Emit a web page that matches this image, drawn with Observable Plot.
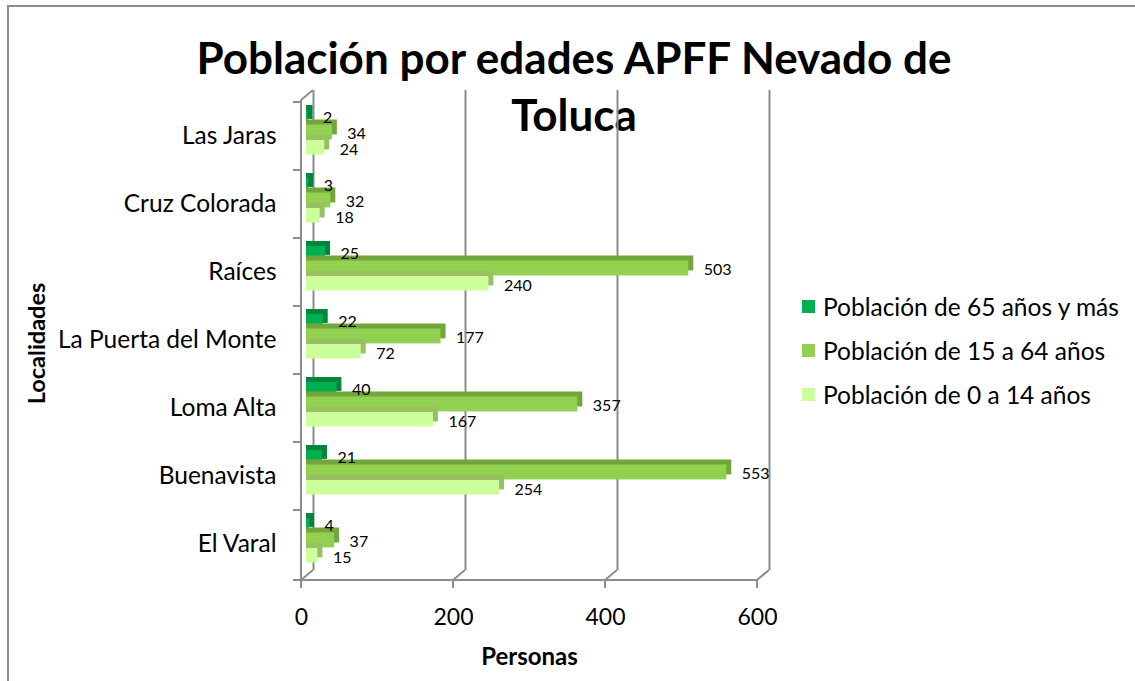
<!DOCTYPE html>
<html>
<head>
<meta charset="utf-8">
<script src="https://cdn.jsdelivr.net/npm/d3@7"></script>
<script src="https://cdn.jsdelivr.net/npm/@observablehq/plot@0.6"></script>
<style>
html, body { margin: 0; padding: 0; background: #fff; overflow: hidden; }
#wrap { position: relative; width: 1135px; height: 681px; font-family: Lato, sans-serif; color: #000; }
#border { position: absolute; left: 7px; top: 5px; width: 1300px; height: 900px; border: 2px solid #8c8c8c; box-sizing: border-box; }
#title { position: absolute; left: 0; top: 29px; width: 1148px; text-align: center; font-weight: 700; font-size: 44px; line-height: 57px; }
#chart { position: absolute; left: 0; top: 0; }
#legend { position: absolute; left: 802px; top: 284px; font-size: 24.5px; }
#legend .row { display: flex; align-items: center; height: 44px; white-space: nowrap; }
#legend .sw { width: 13px; height: 13px; margin-right: 8px; flex: none; }
</style>
</head>
<body>
<div id="wrap">
  <div id="border"></div>
  <div id="title">Población por edades APFF Nevado de<br>Toluca</div>
  <div id="chart"></div>
  <div id="legend"></div>
</div>
<script>
// ---- data ----
const localidades = ["Las Jaras", "Cruz Colorada", "Raíces", "La Puerta del Monte", "Loma Alta", "Buenavista", "El Varal"];
const series = ["Población de 65 años y más", "Población de 15 a 64 años", "Población de 0 a 14 años"];
const pob65ymas = [2, 3, 25, 22, 40, 21, 4];
const pob15a64 = [34, 32, 503, 177, 357, 553, 37];
const pob0a14 = [24, 18, 240, 72, 167, 254, 15];
const xTicks = [0, 200, 400, 600];
const xLabel = "Personas";
const yLabel = "Localidades";

// ---- styles ----
const colors = ["#00B050", "#92D050", "#CCFF99"];
const depthColors = ["#00863C", "#72A63A", "#98C062"];
const gridColor = "#8c8c8c";

const values = [pob65ymas, pob15a64, pob0a14];
const tables = values.map(arr => localidades.map((loc, i) => ({loc, value: arr[i]})));

const W = 1135, H = 681;
const mT = 100, mB = 101, mL = 301, mR = 378;
const bw = (H - mT - mB) / localidades.length;
const barTop = [8, 22.5, 38];
const barBot = [22.5, 38, 53];
const labelDy = [-19, -3, 13];
const depthX = 12, depthY = 10, tickLen = 8;
const barDx = 5, faceD = 5;

function frame3d(index, scales, vals, dims) {
  const x = scales.x, y = scales.y;
  const top = dims.marginTop, bottom = dims.height - dims.marginBottom;
  const x0 = x(0);
  const g = d3.create("svg:g").attr("fill", "none").attr("stroke", gridColor).attr("stroke-width", 2);
  const seg = (a, b, c, d) => g.append("line").attr("x1", a).attr("y1", b).attr("x2", c).attr("y2", d);
  seg(x0, top, x0 + depthX, top - depthY);
  seg(x0, top, x0, bottom + tickLen);
  const ys = localidades.map(d => y(d)).concat([bottom]);
  for (const yy of ys) seg(x0 - tickLen, yy, x0, yy);
  seg(x0 - tickLen, bottom, x(xTicks[xTicks.length - 1]), bottom);
  for (const t of xTicks) {
    const px = x(t);
    seg(px, bottom, px + depthX, bottom - depthY);
    seg(px, bottom, px, bottom + tickLen);
  }
  return g.node();
}

const marks = [
  Plot.ruleX(xTicks, {x: d => d, dx: depthX, dy: -depthY, stroke: gridColor, strokeWidth: 2}),
  frame3d
];
tables.forEach((rows, s) => {
  // top + side faces (depth), then front face
  marks.push(Plot.barX(rows, {x1: 0, x2: "value", y: "loc", fill: depthColors[s],
    insetTop: barTop[s], insetBottom: bw - barBot[s], insetRight: -faceD, dx: barDx, dy: -faceD}));
  marks.push(Plot.barX(rows, {x1: 0, x2: "value", y: "loc", fill: colors[s],
    insetTop: barTop[s], insetBottom: bw - barBot[s], dx: barDx}));
});
tables.forEach((rows, s) => {
  marks.push(Plot.text(rows, {x: "value", y: "loc", text: d => String(d.value), textAnchor: "start",
    dx: 20, dy: labelDy[s], fontSize: 16, fill: "#000"}));
});
marks.push(Plot.text(localidades, {y: d => d, text: d => d, frameAnchor: "left", textAnchor: "end", lineAnchor: "middle", dx: -25, fontSize: 24.5, fill: "#000"}));
marks.push(Plot.text(xTicks, {x: d => d, text: d => String(d), frameAnchor: "bottom", lineAnchor: "middle", dy: 37, fontSize: 23, fill: "#000"}));
marks.push(Plot.text([xLabel], {text: d => d, frameAnchor: "bottom", textAnchor: "middle", lineAnchor: "middle", dy: 77, fontSize: 24, fontWeight: "bold", fill: "#000"}));
marks.push(Plot.text([yLabel], {text: d => d, frameAnchor: "left", textAnchor: "middle", lineAnchor: "middle", dx: -264, dy: 3, rotate: -90, fontSize: 23.5, fontWeight: "bold", fill: "#000"}));

const chart = Plot.plot({
  width: W, height: H,
  marginTop: mT, marginBottom: mB, marginLeft: mL, marginRight: mR,
  x: {domain: [xTicks[0], xTicks[xTicks.length - 1]], axis: null},
  y: {domain: localidades, axis: null, padding: 0},
  style: {fontFamily: "Lato, sans-serif", background: "transparent", overflow: "visible"},
  marks
});
document.getElementById("chart").appendChild(chart);

const legend = document.getElementById("legend");
series.forEach((name, s) => {
  const row = document.createElement("div");
  row.className = "row";
  const sw = document.createElement("span");
  sw.className = "sw";
  sw.style.background = colors[s];
  const tx = document.createElement("span");
  tx.textContent = name;
  row.appendChild(sw); row.appendChild(tx);
  legend.appendChild(row);
});
</script>
</body>
</html>
